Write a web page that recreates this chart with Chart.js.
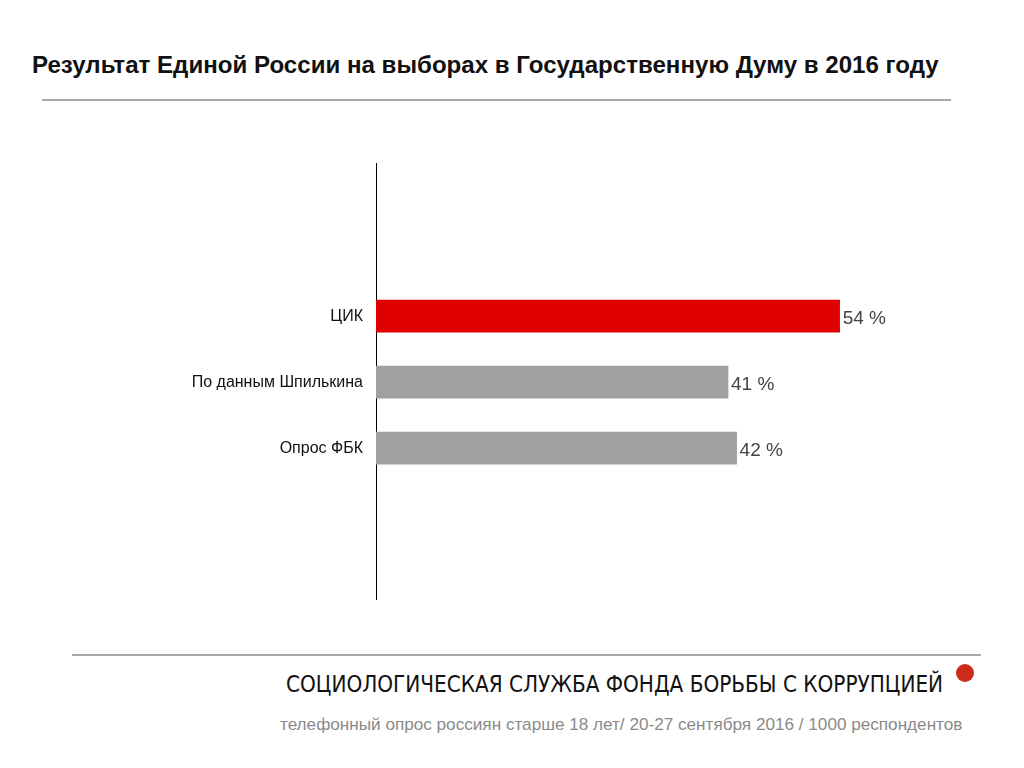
<!DOCTYPE html>
<html lang="ru">
<head>
<meta charset="utf-8">
<title>Результат Единой России</title>
<style>
  body { margin: 0; width: 1024px; height: 768px; background: #fff; position: relative; overflow: hidden; font-family: "Liberation Sans", Arial, sans-serif; }
  .title { position: absolute; left: 32px; top: 51px; font-size: 24.1px; font-weight: bold; color: #111; white-space: nowrap; }
  .rule { position: absolute; height: 2px; background: #a8a8a8; }
  .chart { position: absolute; left: 0; top: 163px; width: 1024px; height: 437px; }
  .org { position: absolute; left: 286px; top: 671px; font-family: "DejaVu Sans Condensed", "DejaVu Sans", sans-serif; font-stretch: condensed; font-size: 22.3px; color: #111; white-space: nowrap; }
  .dot { position: absolute; left: 956px; top: 664px; width: 18px; height: 18px; border-radius: 50%; background: #cc2a1a; }
  .note { position: absolute; left: 280px; top: 714px; font-size: 17.15px; color: #8a8a8a; white-space: nowrap; }
</style>
</head>
<body>
<div class="title">Результат Единой России на выборах в Государственную Думу в 2016 году</div>
<div class="rule" style="left:42px; top:99px; width:909px;"></div>
<div class="chart"><canvas id="c"></canvas></div>
<div class="rule" style="left:72px; top:654px; width:909px;"></div>
<div class="org">СОЦИОЛОГИЧЕСКАЯ СЛУЖБА ФОНДА БОРЬБЫ С КОРРУПЦИЕЙ</div>
<div class="dot"></div>
<div class="note">телефонный опрос россиян старше 18 лет/ 20-27 сентября 2016 / 1000 респондентов</div>
<script src="https://cdn.jsdelivr.net/npm/chart.js@4"></script>
<script>
const categories = ['ЦИК', 'По данным Шпилькина', 'Опрос ФБК'];
const values = [54, 41, 42];
const barColors = ['#e00000', '#a0a0a0', '#a0a0a0'];

const valueLabels = {
  id: 'valueLabels',
  afterDatasetsDraw(chart) {
    const ctx = chart.ctx;
    const meta = chart.getDatasetMeta(0);
    ctx.save();
    ctx.font = '19px "Liberation Sans", Arial, sans-serif';
    ctx.fillStyle = '#444';
    ctx.textBaseline = 'middle';
    meta.data.forEach((bar, i) => {
      ctx.fillText(values[i] + ' %', bar.x + 3, bar.y + 3);
    });
    ctx.restore();
  }
};

new Chart(document.getElementById('c'), {
  type: 'bar',
  data: {
    datasets: [{
      data: values.map((v, i) => ({ x: v, y: i })),
      backgroundColor: barColors,
      barThickness: 32
    }]
  },
  options: {
    indexAxis: 'y',
    responsive: true,
    maintainAspectRatio: false,
    animation: false,
    layout: { padding: { left: 0, right: 47, top: 0, bottom: 0 } },
    plugins: { legend: { display: false }, tooltip: { enabled: false } },
    scales: {
      x: { type: 'linear', min: 0, max: 70, display: false },
      y: {
        type: 'linear',
        reverse: true,
        offset: false,
        min: -2.32,
        max: 4.3,
        grid: { display: false, offset: false },
        border: { display: true, color: '#000', width: 1 },
        afterBuildTicks: s => { s.ticks = categories.map((_, i) => ({ value: i })); },
        afterFit: s => { s.width = 376; s.paddingTop = 0; s.paddingBottom = 0; },
        ticks: {
          autoSkip: false,
          padding: 5,
          color: '#111',
          font: { family: '"Liberation Sans", Arial, sans-serif', size: 16 },
          callback: v => categories[v]
        }
      }
    }
  },
  plugins: [valueLabels]
});
</script>
</body>
</html>
